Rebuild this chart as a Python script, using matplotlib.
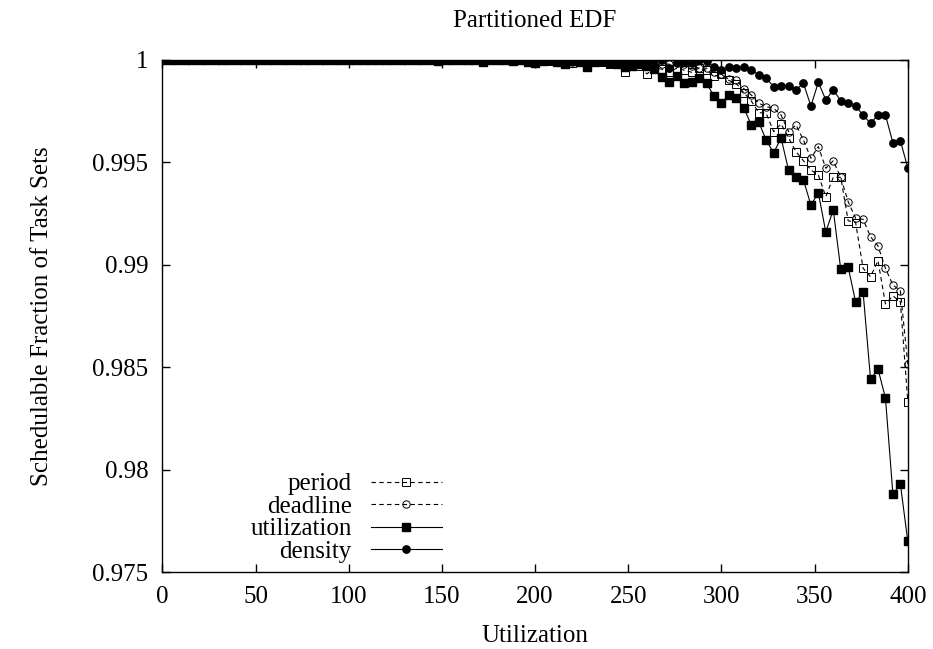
import numpy as np
import matplotlib
matplotlib.use("Agg")
import matplotlib.pyplot as plt
from matplotlib import ticker

plt.rcParams["font.family"] = ["Liberation Serif", "DejaVu Serif"]
plt.rcParams["font.size"] = 18

# total utilization of the generated task sets (step of 4)
util = np.arange(0, 401, 4)

# schedulable fraction per partitioning heuristic
period = [
    1.0, 1.0, 1.0, 1.0, 1.0, 1.0, 1.0, 1.0, 1.0, 1.0,
    1.0, 1.0, 1.0, 1.0, 1.0, 1.0, 1.0, 1.0, 1.0, 1.0,
    1.0, 1.0, 1.0, 1.0, 1.0, 1.0, 1.0, 1.0, 1.0, 1.0,
    1.0, 1.0, 1.0, 1.0, 1.0, 1.0, 1.0, 0.99995, 1.0, 1.0,
    1.0, 1.0, 1.0, 0.99995, 1.0, 1.0, 1.0, 0.99995, 1.0, 0.99992,
    0.9999, 1.0, 0.99995, 0.9999, 0.99995, 0.99985, 0.99995, 0.9998, 0.99995, 0.9999,
    0.9998, 0.9999, 0.99943, 0.9998, 0.9997, 0.99932, 0.9996, 0.99955, 0.9994, 0.9996,
    0.9995, 0.9994, 0.9996, 0.9995, 0.9992, 0.9993, 0.999, 0.99885, 0.9984, 0.998,
    0.99743, 0.9974, 0.9965, 0.99688, 0.9962, 0.99552, 0.99508, 0.99463, 0.99438, 0.99333,
    0.99427, 0.99427, 0.99215, 0.99206, 0.98983, 0.98942, 0.9902, 0.98809, 0.98848, 0.9882,
    0.98332,
]
deadline = [
    1.0, 1.0, 1.0, 1.0, 1.0, 1.0, 1.0, 1.0, 1.0, 1.0,
    1.0, 1.0, 1.0, 1.0, 1.0, 1.0, 1.0, 1.0, 1.0, 1.0,
    1.0, 1.0, 1.0, 1.0, 1.0, 1.0, 1.0, 1.0, 1.0, 1.0,
    1.0, 1.0, 1.0, 1.0, 1.0, 1.0, 1.0, 1.0, 1.0, 1.0,
    1.0, 1.0, 1.0, 1.0, 1.0, 1.0, 1.0, 1.0, 1.0, 0.99995,
    1.0, 1.0, 0.99995, 1.0, 0.99995, 0.9999, 1.0, 0.99995, 0.9999, 0.99995,
    0.9999, 0.99995, 0.9998, 0.9999, 0.9998, 0.9999, 0.9998, 0.9998, 0.9998, 0.9999,
    0.9998, 0.9997, 0.9996, 0.9996, 0.9994, 0.9993, 0.99905, 0.999, 0.9986, 0.99829,
    0.99789, 0.99772, 0.99764, 0.99731, 0.9965, 0.99683, 0.99609, 0.9952, 0.99577, 0.99471,
    0.99508, 0.99427, 0.99308, 0.99227, 0.99222, 0.99137, 0.99092, 0.98983, 0.98901, 0.98874,
    0.98514,
]
utilization = [
    1.0, 1.0, 1.0, 1.0, 1.0, 1.0, 1.0, 1.0, 1.0, 1.0,
    1.0, 1.0, 1.0, 1.0, 1.0, 1.0, 1.0, 1.0, 1.0, 1.0,
    1.0, 1.0, 1.0, 1.0, 1.0, 1.0, 1.0, 1.0, 1.0, 1.0,
    1.0, 1.0, 1.0, 1.0, 1.0, 1.0, 1.0, 0.99995, 1.0, 1.0,
    1.0, 1.0, 1.0, 0.99992, 1.0, 1.0, 1.0, 0.99995, 1.0, 0.99992,
    0.99985, 0.99995, 1.0, 0.9999, 0.9998, 0.99995, 0.9999, 0.99967, 0.9999, 0.99995,
    0.99985, 0.9998, 0.99965, 0.9997, 0.9998, 0.9997, 0.99955, 0.99919, 0.99894, 0.9992,
    0.99886, 0.99894, 0.9991, 0.99886, 0.99824, 0.9979, 0.99829, 0.99814, 0.99766, 0.99683,
    0.99697, 0.99609, 0.99546, 0.99619, 0.99463, 0.99429, 0.99414, 0.99292, 0.99351, 0.9916,
    0.99268, 0.98979, 0.98989, 0.98818, 0.98867, 0.98442, 0.98491, 0.9835, 0.9788, 0.9793,
    0.9765,
]
density = [
    1.0, 1.0, 1.0, 1.0, 1.0, 1.0, 1.0, 1.0, 1.0, 1.0,
    1.0, 1.0, 1.0, 1.0, 1.0, 1.0, 1.0, 1.0, 1.0, 1.0,
    1.0, 1.0, 1.0, 1.0, 1.0, 1.0, 1.0, 1.0, 1.0, 1.0,
    1.0, 1.0, 1.0, 1.0, 1.0, 1.0, 1.0, 1.0, 1.0, 1.0,
    1.0, 1.0, 1.0, 1.0, 1.0, 1.0, 1.0, 1.0, 1.0, 1.0,
    1.0, 1.0, 1.0, 1.0, 1.0, 1.0, 1.0, 1.0, 1.0, 1.0,
    1.0, 1.0, 1.0, 1.0, 1.0, 1.0, 1.0, 1.0, 0.9996, 0.99985,
    0.9999, 0.99985, 1.0, 0.99995, 0.99966, 0.99951, 0.99966, 0.99961, 0.99965, 0.99951,
    0.99927, 0.99911, 0.9987, 0.99875, 0.99875, 0.99854, 0.99886, 0.99775, 0.99891, 0.99805,
    0.99854, 0.99801, 0.99789, 0.99775, 0.99731, 0.99691, 0.99731, 0.99731, 0.99596, 0.99606,
    0.99473,
]

fig = plt.figure(figsize=(9.33, 6.49), dpi=100)
ax = fig.add_axes([0.174, 0.1186, 0.799, 0.789])

dash = (0, (4, 3))
ms = 5.3
ax.plot(util, period, color="k", lw=0.8, ls=dash, marker="s", ms=ms,
        mfc="none", mec="k", mew=0.7, label="period")
ax.plot(util, deadline, color="k", lw=0.8, ls=dash, marker="o", ms=ms,
        mfc="none", mec="k", mew=0.7, label="deadline")
ax.plot(util, utilization, color="k", lw=0.8, marker="s", ms=ms,
        mfc="k", mec="k", label="utilization")
ax.plot(util, density, color="k", lw=0.8, marker="o", ms=ms,
        mfc="k", mec="k", label="density")

ax.set_xlim(0, 400)
ax.set_ylim(0.975, 1.0)
ax.xaxis.set_major_locator(ticker.MultipleLocator(50))
ax.yaxis.set_major_locator(ticker.MultipleLocator(0.005))
ax.yaxis.set_major_formatter(ticker.FuncFormatter(lambda v, _: "{:g}".format(round(v, 4))))
ax.tick_params(direction="in", length=6, width=1, top=True, right=True, pad=10)
for s in ax.spines.values():
    s.set_linewidth(1)

ax.set_title("Partitioned EDF", fontsize=18, pad=24)
ax.set_xlabel("Utilization", labelpad=12)
ax.set_ylabel("Schedulable Fraction of Task Sets", labelpad=28)

ax.legend(loc="lower right", bbox_to_anchor=(0.375, 0.018), frameon=False,
          markerfirst=False, handlelength=2.85, handletextpad=0.76,
          labelspacing=0.0, borderaxespad=0, borderpad=0)

fig.savefig("out.png", dpi=100)
